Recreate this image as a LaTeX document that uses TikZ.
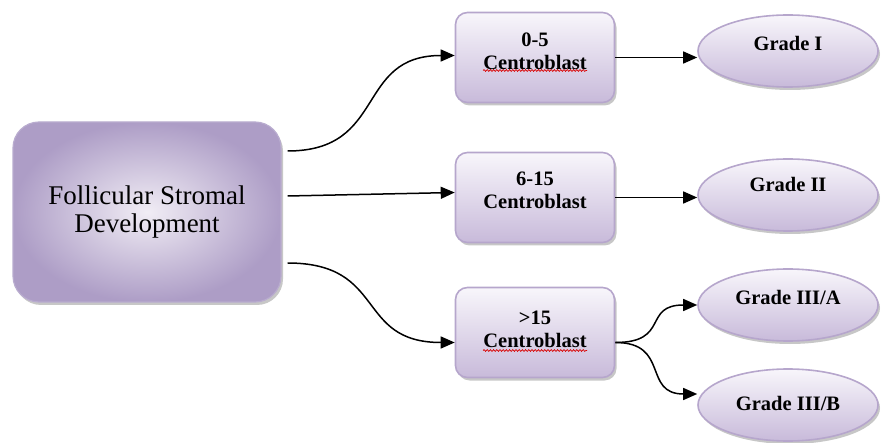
\documentclass[tikz,border=0pt]{standalone}
\usepackage{fontspec}
\setmainfont{Liberation Serif}
\usetikzlibrary{shapes.geometric,shadows,calc,decorations.pathmorphing,arrows.meta}
\definecolor{boxborder}{HTML}{B6A6CC}
\definecolor{boxtop}{HTML}{F8F6FB}
\definecolor{boxbot}{HTML}{C8BADA}
\definecolor{bigouter}{HTML}{AD9DC6}
\definecolor{biginner}{HTML}{F1EDF5}
\begin{document}
\begin{tikzpicture}[x=1pt,y=-1pt,
  shadowed/.style={drop shadow={shadow xshift=2pt,shadow yshift=-3pt,fill=black!40,opacity=.55}},
  cbox/.style={shadowed,draw=boxborder,line width=1.6pt,rounded corners=12pt,
    top color=boxtop,bottom color=boxbot,minimum width=159pt,minimum height=90pt,
    align=center,inner sep=0pt,font=\bfseries\fontsize{20.5}{23}\selectfont},
  grade/.style={shadowed,ellipse,draw=boxborder,line width=1.6pt,
    top color=boxtop,bottom color=boxbot,minimum width=180pt,minimum height=72pt,
    inner sep=0pt,font=\bfseries\fontsize{20.5}{23}\selectfont},
  bigbox/.style={shadowed,draw=bigouter!85,line width=1.2pt,rounded corners=26pt,
    inner color=biginner,outer color=bigouter,minimum width=268pt,minimum height=180pt,
    align=center,inner sep=0pt,font=\fontsize{27}{28}\selectfont},
  arr/.style={line width=1.5pt,-{Triangle[length=14pt,width=12pt]}},
  wavy/.style={red!85!black,line width=0.7pt,decorate,
    decoration={snake,amplitude=0.9pt,segment length=3.2pt}}
]
\useasboundingbox (0,0) rectangle (888,443);

\node[bigbox] (big) at (147,212) {Follicular Stromal\\Development};

\node[cbox,text depth=12pt] (b1) at (535,57.5) {0-5\\Centroblast};
\node[cbox,text depth=14pt] (b2) at (535,197.5) {6-15\\Centroblast};
\node[cbox,text depth=6pt] (b3) at (535,332.5) {>15\\Centroblast};

\node[grade,text depth=16pt] (g1) at (788,51) {Grade I};
\node[grade,text depth=22pt] (g2) at (788,195) {Grade II};
\node[grade,text depth=16pt] (g3a) at (788,305) {Grade III/A};
\node[grade,text depth=4pt] (g3b) at (788,405) {Grade III/B};

\draw[wavy] ($(b1.center)+(-52,13)$) -- ($(b1.center)+(52,13)$);
\draw[wavy] ($(b3.center)+(-52,18)$) -- ($(b3.center)+(52,18)$);

\draw[arr] ([xshift=6pt,yshift=61pt]big.east) .. controls +(100,0) and +(-100,0) .. ([yshift=2pt]b1.west);
\draw[arr] ([xshift=6pt,yshift=16pt]big.east) -- ([yshift=5pt]b2.west);
\draw[arr] ([xshift=6pt,yshift=-51pt]big.east) .. controls +(100,0) and +(-100,0) .. ([yshift=-10pt]b3.west);

\draw[arr] (b1.east) -- (b1.east -| g1.west);
\draw[arr] (b2.east) -- (b2.east -| g2.west);
\draw[arr] ([yshift=-10pt]b3.east) .. controls +(55,0) and +(-55,0) .. (g3a.west);
\draw[arr] ([yshift=-10pt]b3.east) .. controls +(55,0) and +(-55,0) .. ([yshift=11pt]g3b.west);
\end{tikzpicture}
\end{document}
